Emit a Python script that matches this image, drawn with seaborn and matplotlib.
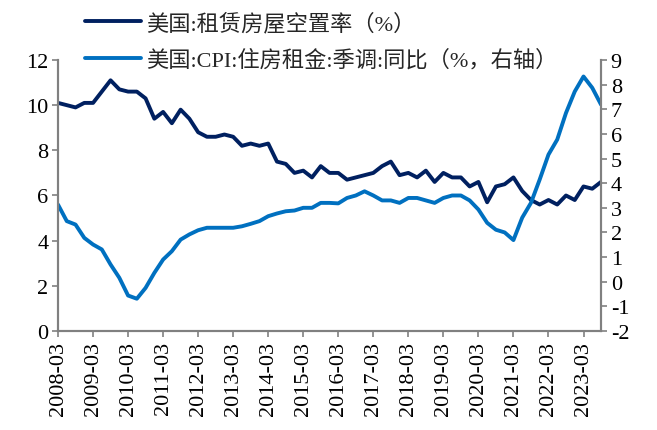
import matplotlib
matplotlib.use("Agg")
import matplotlib.pyplot as plt
import numpy as np
import pandas as pd
import seaborn as sns

# quarterly, 2008-03 .. 2023-09
QUARTERS = [p.strftime("%Y-%m") for p in pd.period_range("2008-03", "2023-09", freq="3M")]

VACANCY_RATE = [
    10.1, 10.0, 9.9, 10.1,
    10.1, 10.6, 11.1, 10.7,
    10.6, 10.6, 10.3, 9.4,
    9.7, 9.2, 9.8, 9.4,
    8.8, 8.6, 8.6, 8.7,
    8.6, 8.2, 8.3, 8.2,
    8.3, 7.5, 7.4, 7.0,
    7.1, 6.8, 7.3, 7.0,
    7.0, 6.7, 6.8, 6.9,
    7.0, 7.3, 7.5, 6.9,
    7.0, 6.8, 7.1, 6.6,
    7.0, 6.8, 6.8, 6.4,
    6.6, 5.7, 6.4, 6.5,
    6.8, 6.2, 5.8, 5.6,
    5.8, 5.6, 6.0, 5.8,
    6.4, 6.3, 6.6,
]

RENT_CPI_YOY = [
    3.13, 2.46, 2.32, 1.78,
    1.51, 1.31, 0.70, 0.16,
    -0.56, -0.69, -0.25, 0.36,
    0.90, 1.24, 1.71, 1.92,
    2.09, 2.19, 2.19, 2.19,
    2.19, 2.25, 2.35, 2.46,
    2.66, 2.77, 2.86, 2.89,
    3.00, 3.00, 3.20, 3.20,
    3.18, 3.40, 3.50, 3.67,
    3.50, 3.30, 3.30, 3.20,
    3.40, 3.40, 3.30, 3.20,
    3.40, 3.50, 3.50, 3.30,
    2.93, 2.39, 2.11, 2.00,
    1.69, 2.60, 3.20, 4.15,
    5.16, 5.77, 6.85, 7.72,
    8.33, 7.87, 7.19,
]

LABEL_VACANCY = "美国:租赁房屋空置率（%）"
LABEL_RENT = "美国:CPI:住房租金:季调:同比（%，右轴）"

DARK = "#002060"
LIGHT = "#0070C0"
SPINE = "#808080"

sns.set_theme(style="white")
plt.rcParams.update(
    {
        "font.family": ["Liberation Serif", "Noto Sans CJK SC"],
        "font.size": 16,
        "axes.unicode_minus": False,
        "xtick.major.size": 4,
        "ytick.major.size": 4,
        "xtick.major.width": 1.2,
        "ytick.major.width": 1.2,
        "xtick.color": SPINE,
        "ytick.color": SPINE,
        "xtick.labelcolor": "black",
        "ytick.labelcolor": "black",
        "lines.solid_joinstyle": "round",
        "lines.solid_capstyle": "round",
    }
)

df = pd.DataFrame(
    {
        "pos": np.arange(len(QUARTERS)),
        "quarter": QUARTERS,
        "vacancy": VACANCY_RATE,
        "rent": RENT_CPI_YOY,
    }
)

fig = plt.figure(figsize=(6.57, 4.31), dpi=100)
ax = fig.add_axes([0.0883, 0.2297, 0.9148 - 0.0883, 0.8585 - 0.2297])
ax2 = ax.twinx()

sns.lineplot(data=df, x="pos", y="vacancy", ax=ax, color=DARK, linewidth=2.8, label=LABEL_VACANCY, legend=False)
sns.lineplot(data=df, x="pos", y="rent", ax=ax2, color=LIGHT, linewidth=2.8, label=LABEL_RENT, legend=False)

ax.set_xlim(0, len(QUARTERS) - 1)
ax.set_ylim(0, 12)
ax.set_yticks(np.arange(0, 13, 2))
ax2.set_ylim(-2, 9)
ax2.set_yticks(np.arange(-2, 10, 1))

tick_pos = df["pos"][::4]
ax.set_xticks(tick_pos)
ax.set_xticklabels(df["quarter"][::4], rotation=90)
ax.set_xlabel("")
ax.set_ylabel("")
ax2.set_ylabel("")

for axis in (ax, ax2):
    axis.grid(False)
    axis.spines["top"].set_visible(False)
    for side in ("left", "right", "bottom"):
        axis.spines[side].set_color(SPINE)
        axis.spines[side].set_linewidth(1.5)
ax.tick_params(axis="both", which="major", direction="out", pad=3, labelsize=16)
ax2.tick_params(axis="y", direction="out", pad=3, labelsize=16)
ax.tick_params(axis="y", left=True)
ax.tick_params(axis="x", bottom=True)
ax2.tick_params(axis="y", right=True)

handles = ax.get_lines()[:1] + ax2.get_lines()[:1]
fig.legend(
    handles,
    [LABEL_VACANCY, LABEL_RENT],
    loc="upper left",
    bbox_to_anchor=(0.106, 1.005),
    frameon=False,
    fontsize=16,
    handlelength=2.5,
    handletextpad=0.22,
    labelspacing=0.67,
    borderpad=0.2,
)

fig.savefig("out.png", dpi=100, facecolor="white")
